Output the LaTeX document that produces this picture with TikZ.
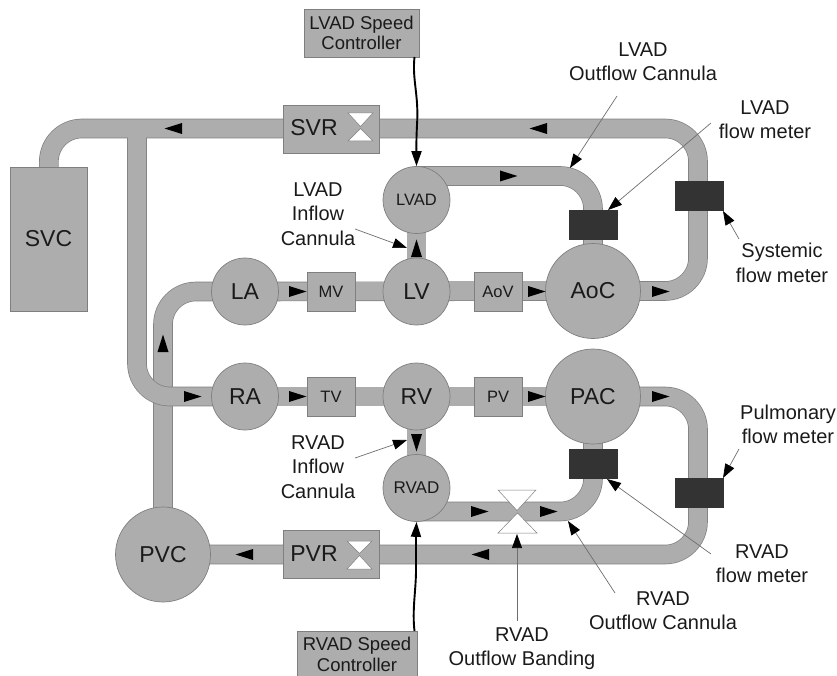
\documentclass[tikz,border=0pt]{standalone}
\usepackage{fontspec}
\setmainfont{Liberation Sans}
\usetikzlibrary{arrows.meta,backgrounds}
\definecolor{bodyfill}{HTML}{ADADAD}
\definecolor{bodyedge}{HTML}{7F7F7F}
\definecolor{meterfill}{HTML}{333333}
\definecolor{calloutline}{HTML}{6E6E6E}
\definecolor{inkdark}{HTML}{1A1A1A}
\tikzset{
  every node/.style={text=inkdark},
  chamber/.style={circle,draw=bodyedge,fill=bodyfill,line width=0.7pt,inner sep=0pt,font=\fontsize{23}{26}\selectfont},
  smallchamber/.style={chamber,minimum size=67pt},
  bigchamber/.style={chamber,minimum size=95pt},
  blockbox/.style={rectangle,draw=bodyedge,fill=bodyfill,line width=0.7pt,inner sep=0pt},
  valvebox/.style={blockbox,minimum width=48pt,minimum height=39pt,font=\fontsize{16.5}{20}\selectfont},
  resbox/.style={blockbox,minimum width=96pt,minimum height=48pt},
  ctrlbox/.style={blockbox,align=center,font=\fontsize{18.5}{20.5}\selectfont},
  meter/.style={rectangle,draw=meterfill,fill=meterfill,inner sep=0pt,minimum width=48pt,minimum height=29pt},
  pipeedge/.style={line width=19.6pt,draw=bodyedge,rounded corners=33pt},
  pipefill/.style={line width=18.2pt,draw=bodyfill,rounded corners=33pt},
  callout/.style={align=center,font=\fontsize{20}{24.3}\selectfont,inner sep=0pt},
  calloutarrow/.style={draw=calloutline,line width=0.7pt,-{Triangle[length=14pt,width=10pt,color=black]}},
  wire/.style={draw=black,line width=1.9pt,-{Triangle[length=15pt,width=10pt,color=black]}},
  gate/.style={draw=bodyedge,fill=white,line width=0.5pt},
  flowmark/.pic={\fill[black] (0,-5.5) -- (17.5,0) -- (0,5.5) -- cycle;},
}
\newcommand{\pipeline}[1]{\draw[pipeedge] #1; \draw[pipefill] #1;}
\begin{document}
\begin{tikzpicture}[x=1pt,y=-1pt]
\useasboundingbox (0,0) rectangle (837,676);
% chambers
\node[blockbox,minimum width=77pt,minimum height=144pt,font=\fontsize{23}{26}\selectfont] (SVC) at (48.5,239) {SVC};
\node[smallchamber] (LA) at (245,291.5) {LA};
\node[smallchamber] (RA) at (245,396.5) {RA};
\node[smallchamber] (LV) at (416.5,291.5) {LV};
\node[smallchamber] (RV) at (416.5,396.5) {RV};
\node[smallchamber,font=\fontsize{16.5}{20}\selectfont] (LVAD) at (416.5,200) {LVAD};
\node[smallchamber,font=\fontsize{17}{20}\selectfont] (RVAD) at (416.5,488) {RVAD};
\node[bigchamber] (AoC) at (593,291) {AoC};
\node[bigchamber] (PAC) at (593,396.5) {PAC};
\node[bigchamber] (PVC) at (163,554.5) {PVC};
% valves and resistances
\node[valvebox] (MV) at (331,291.5) {MV};
\node[valvebox] (TV) at (331,397) {TV};
\node[valvebox] (AoV) at (498,291.5) {AoV};
\node[valvebox] (PV) at (498,397) {PV};
\node[resbox] (SVR) at (331,129) {};
\node[resbox] (PVR) at (331,554.5) {};
\node[font=\fontsize{23}{26}\selectfont] (SVRtext) at (314,128) {SVR};
\node[font=\fontsize{23}{26}\selectfont] (PVRtext) at (314,554) {PVR};
\draw[gate] (348,113) -- (373,113) -- (360.5,126.5) -- cycle;
\draw[gate] (348,141) -- (373,141) -- (360.5,128.5) -- cycle;
\draw[gate] (347,541) -- (372,541) -- (359.5,553.5) -- cycle;
\draw[gate] (347,569) -- (372,569) -- (359.5,555.5) -- cycle;
% meters
\node[meter] (mLVAD) at (593,224.5) {};
\node[meter] (mSys) at (699,195.5) {};
\node[meter] (mRVAD) at (593,463.5) {};
\node[meter] (mPul) at (699,492.5) {};
% controllers
\node[ctrlbox,minimum width=115pt,minimum height=48pt] (LCtrl) at (361.5,33) {LVAD Speed\\Controller};
\node[ctrlbox,minimum width=120pt,minimum height=50pt] (RCtrl) at (357,656) {};
\node[font=\fontsize{18.5}{20.5}\selectfont,align=center,inner sep=0pt] (RCtrlText) at (357,654.5) {RVAD Speed\\Controller};
% corners and junctions
\coordinate (cTR) at (698,128.5);
\coordinate (cTL) at (49,128.5);
\coordinate (cT) at (137,128.5);
\coordinate (cSV) at (137,396.5);
\coordinate (cAo) at (698,291);
\coordinate (cPA) at (698,396.5);
\coordinate (cBR) at (698,554.5);
\coordinate (cLA) at (163,291.5);
\coordinate (cLO) at (593,176);
\coordinate (cLO1) at (416.5,176);
\coordinate (cRO) at (593,511.5);
\coordinate (cRO1) at (416.5,511.5);
\begin{pgfonlayer}{background}
  \pipeline{(PVC.center) -- (cLA) -- (LA.center)}
  \pipeline{(LA.center) -- (AoC.center)}
  \pipeline{(RA.center) -- (PAC.center)}
  \pipeline{(LVAD.center) -- (LV.center)}
  \pipeline{(RV.center) -- (RVAD.center)}
  \pipeline{(cLO1) -- (cLO) -- (AoC.center)}
  \pipeline{(cRO1) -- (cRO) -- (PAC.center)}
  \pipeline{(PAC.center) -- (cPA) -- (cBR) -- (PVC.center)}
  \draw[pipeedge] (AoC.center) -- (cAo) -- (cTR) -- (cTL) -- (SVC.center);
  \draw[pipeedge] (cT) -- (cSV) -- (RA.center);
  \draw[pipefill] (AoC.center) -- (cAo) -- (cTR) -- (cTL) -- (SVC.center);
  \draw[pipefill] (cT) -- (cSV) -- (RA.center);
\end{pgfonlayer}
% outflow banding
\draw[gate] (498,490) -- (536,490) -- (517,510.5) -- cycle;
\draw[gate] (498,533) -- (537,533) -- (517.5,513) -- cycle;
% flow direction marks
\pic at (182,128.5) [rotate=180] {flowmark};
\pic at (547,128.5) [rotate=180] {flowmark};
\pic at (500,176) {flowmark};
\pic at (416.5,257) [rotate=90] {flowmark};
\pic at (416.5,434) [rotate=-90] {flowmark};
\pic at (289,291.5) {flowmark};
\pic at (528,291.5) {flowmark};
\pic at (652,291.5) {flowmark};
\pic at (184,396.5) {flowmark};
\pic at (289,396.5) {flowmark};
\pic at (528,396.5) {flowmark};
\pic at (652,396.5) {flowmark};
\pic at (163,352) [rotate=90] {flowmark};
\pic at (253,554.5) [rotate=180] {flowmark};
\pic at (489,554.5) [rotate=180] {flowmark};
\pic at (471,511.5) {flowmark};
\pic at (540,511.5) {flowmark};
% labels
\node[callout] (tLIn) at (318,214) {LVAD\\Inflow\\Cannula};
\node[callout] (tLOut) at (643,62) {LVAD\\Outflow Cannula};
\node[callout] (tLFm) at (765,119.5) {LVAD\\flow meter};
\node[callout] (tSys) at (782,263) {Systemic\\flow meter};
\node[callout] (tRIn) at (318,467) {RVAD\\Inflow\\Cannula};
\node[callout] (tPul) at (788,424) {Pulmonary\\flow meter};
\node[callout] (tRFm) at (762,563.5) {RVAD\\flow meter};
\node[callout] (tROut) at (663,611) {RVAD\\Outflow Cannula};
\node[callout] (tBand) at (522,649) {RVAD\\Outflow Banding};
% callout connector ends
\coordinate (aLIn) at (355,229);   \coordinate (bLIn) at (407,248);
\coordinate (aLOut) at (617,96);   \coordinate (bLOut) at (570,168);
\coordinate (aLFm) at (711,123);   \coordinate (bLFm) at (608,210);
\coordinate (aSys) at (739,239);   \coordinate (bSys) at (723,211);
\coordinate (aRIn) at (355,458);   \coordinate (bRIn) at (407,440);
\coordinate (aPul) at (739,449);   \coordinate (bPul) at (723,478);
\coordinate (aRFm) at (711,554);   \coordinate (bRFm) at (607,479);
\coordinate (aROut) at (615,593);  \coordinate (bROut) at (568,521);
\coordinate (aBand) at (517,621);  \coordinate (bBand) at (517,534);
\draw[calloutarrow] (aLIn) -- (bLIn);
\draw[calloutarrow] (aLOut) -- (bLOut);
\draw[calloutarrow] (aLFm) -- (bLFm);
\draw[calloutarrow] (aSys) -- (bSys);
\draw[calloutarrow] (aRIn) -- (bRIn);
\draw[calloutarrow] (aPul) -- (bPul);
\draw[calloutarrow] (aRFm) -- (bRFm);
\draw[calloutarrow] (aROut) -- (bROut);
\draw[calloutarrow] (aBand) -- (bBand);
% control wires
\coordinate (wL) at (414.5,57);
\coordinate (wR) at (414.5,631);
\draw[wire] (wL) .. controls (412,80) and (419,95) .. (417,125) .. controls (416,145) and (416.5,155) .. (LVAD.north);
\draw[wire] (wR) .. controls (412,610) and (416,590) .. (416,570) .. controls (416,550) and (416,535) .. (RVAD.south);
\end{tikzpicture}
\end{document}
